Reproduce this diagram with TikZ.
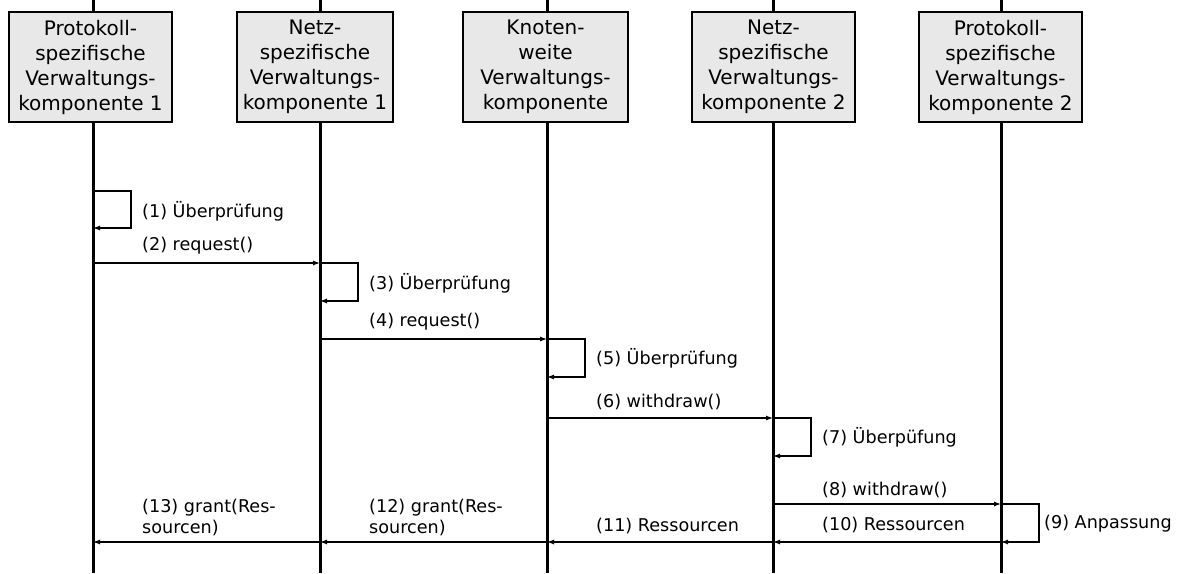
\documentclass[tikz,border=0pt]{standalone}
\usepackage{fontspec}
\setmainfont{DejaVu Sans}
\usetikzlibrary{arrows.meta,calc}
\begin{document}
\begin{tikzpicture}[x=1pt,y=-1pt,
  comp/.style={draw,line width=1.7pt,fill=black!9,align=center,inner sep=0pt,
    minimum height=110pt,font=\fontsize{20}{25}\selectfont},
  life/.style={line width=3pt},
  msg/.style={line width=1.2pt,-{Latex[length=7pt,width=5pt]}},
  lbl/.style={anchor=west,inner sep=0pt,align=left,font=\fontsize{17.6}{21}\selectfont}]
\useasboundingbox (0,0) rectangle (1178,573);

% lifeline positions
\coordinate (t1) at (93,0);
\coordinate (t2) at (320,0);
\coordinate (t3) at (547,0);
\coordinate (t4) at (773,0);
\coordinate (t5) at (1001,0);
\coordinate (bot) at (0,573);

% lifelines (drawn behind the boxes)
\foreach \t in {t1,t2,t3,t4,t5}
  \draw[life] (\t) -- (\t |- bot);

% components
\node[comp,minimum width=163pt] (c1) at (90.5,67) {Protokoll-\\spezifische\\Verwaltungs-\\komponente 1};
\node[comp,minimum width=156pt] (c2) at (315,67) {Netz-\\spezifische\\Verwaltungs-\\komponente 1};
\node[comp,minimum width=165pt] (c3) at (545.5,67) {Knoten-\\weite\\Verwaltungs-\\komponente};
\node[comp,minimum width=163pt] (c4) at (773.5,67) {Netz-\\spezifische\\Verwaltungs-\\komponente 2};
\node[comp,minimum width=163pt] (c5) at (1000.5,67) {Protokoll-\\spezifische\\Verwaltungs-\\komponente 2};

% message levels
\coordinate (y1) at (0,191);  \coordinate (y1e) at (0,228);
\coordinate (y2) at (0,263);  \coordinate (y3e) at (0,301);
\coordinate (y4) at (0,339);  \coordinate (y5e) at (0,377);
\coordinate (y6) at (0,418);  \coordinate (y7e) at (0,456);
\coordinate (y8) at (0,504);  \coordinate (yr) at (0,542);

% self checks
\draw[msg] (t1 |- y1) -- ++(38,0) |- (t1 |- y1e);
\draw[msg] (t2 |- y2) -- ++(38,0) |- (t2 |- y3e);
\draw[msg] (t3 |- y4) -- ++(38,0) |- (t3 |- y5e);
\draw[msg] (t4 |- y6) -- ++(38,0) |- (t4 |- y7e);
\draw[msg] (t5 |- y8) -- ++(38,0) |- (t5 |- yr);

% requests and withdrawals
\draw[msg] (t1 |- y2) -- (t2 |- y2);
\draw[msg] (t2 |- y4) -- (t3 |- y4);
\draw[msg] (t3 |- y6) -- (t4 |- y6);
\draw[msg] (t4 |- y8) -- (t5 |- y8);

% answers back
\draw[msg] (t5 |- yr) -- (t4 |- yr);
\draw[msg] (t4 |- yr) -- (t3 |- yr);
\draw[msg] (t3 |- yr) -- (t2 |- yr);
\draw[msg] (t2 |- yr) -- (t1 |- yr);

% labels
\node[lbl] (l1)  at ($(t1)+(49,211)$) {(1) Überprüfung};
\node[lbl] (l2)  at ($(t1)+(49,246)$) {(2) request()};
\node[lbl] (l3)  at ($(t2)+(49,283)$) {(3) Überprüfung};
\node[lbl] (l4)  at ($(t2)+(49,322)$) {(4) request()};
\node[lbl] (l5)  at ($(t3)+(49,358)$) {(5) Überprüfung};
\node[lbl] (l6)  at ($(t3)+(49,402)$) {(6) withdraw()};
\node[lbl] (l7)  at ($(t4)+(49,437)$) {(7) Überpüfung};
\node[lbl] (l8)  at ($(t4)+(49,490)$) {(8) withdraw()};
\node[lbl] (l9)  at ($(t5)+(43,524)$) {(9) Anpassung};
\node[lbl] (l10) at ($(t4)+(49,525)$) {(10) Ressourcen};
\node[lbl] (l11) at ($(t3)+(49,526)$) {(11) Ressourcen};
\node[lbl] (l12) at ($(t2)+(49,517)$) {(12) grant(Res-\\sourcen)};
\node[lbl] (l13) at ($(t1)+(49,517)$) {(13) grant(Res-\\sourcen)};
\end{tikzpicture}
\end{document}
